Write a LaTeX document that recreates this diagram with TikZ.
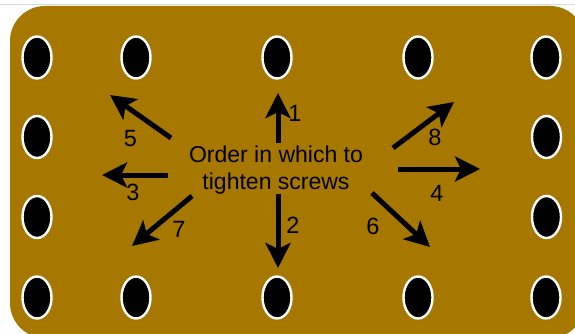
\documentclass[tikz,border=0pt]{standalone}
\usepackage{fontspec}
\setmainfont{Liberation Sans}
\usetikzlibrary{shapes.geometric,arrows.meta}
\definecolor{board}{RGB}{166,120,0}
\tikzset{
  hole/.style={ellipse,draw=white,fill=black,line width=2.4pt,minimum width=29pt,minimum height=42pt,inner sep=0pt},
  order/.style={-{Stealth[length=25pt,width=25pt,inset=6pt]},line width=5pt,black},
  num/.style={inner sep=0pt,font=\fontsize{23.5}{27}\selectfont},
  caption/.style={inner sep=0pt,align=center,font=\fontsize{23}{27}\selectfont}
}
\begin{document}
\begin{tikzpicture}[x=1pt,y=-1pt]
\useasboundingbox (0,0) rectangle (575,334);
\clip (0,0) rectangle (575,334);
\fill[white] (0,0) rectangle (575,334);
\draw[black!15,line width=0.8pt] (0,4.5) -- (575,4.5);
\fill[board,rounded corners=35pt] (10,6) rectangle (585,338);
% screw holes
\foreach \c/\x in {1/37,2/136,3/277,4/418,5/546}{
  \node[hole] (ht\c) at (\x,57.5) {};
  \node[hole] (hb\c) at (\x,297.5) {};
}
\node[hole] (hl2) at (37,137) {};
\node[hole] (hl3) at (37,217) {};
\node[hole] (hr2) at (546.5,137) {};
\node[hole] (hr3) at (546.5,217) {};
% caption
\node[caption] (txt) at (276,170.5) {Order in which to\\tighten screws};
% arrow end points
\coordinate (s1) at (278,143);  \coordinate (e1) at (278,93);
\coordinate (s2) at (278,194);  \coordinate (e2) at (278,268);
\coordinate (s3) at (168,175);  \coordinate (e3) at (102,175);
\coordinate (s4) at (398,169);  \coordinate (e4) at (480,169);
\coordinate (s5) at (171,138);  \coordinate (e5) at (110,95);
\coordinate (s6) at (372,193);  \coordinate (e6) at (430,247);
\coordinate (s7) at (192,196);  \coordinate (e7) at (132,246);
\coordinate (s8) at (393,148);  \coordinate (e8) at (454,102);
\foreach \i in {1,...,8}{ \draw[order] (s\i) -- (e\i); }
% labels
\node[num] (n1) at (295,113.5) {1};
\node[num] (n2) at (293,225) {2};
\node[num] (n3) at (133,192.5) {3};
\node[num] (n4) at (437,193) {4};
\node[num] (n5) at (130.5,139) {5};
\node[num] (n6) at (373,226.5) {6};
\node[num] (n7) at (179,229) {7};
\node[num] (n8) at (435,137) {8};
\end{tikzpicture}
\end{document}
